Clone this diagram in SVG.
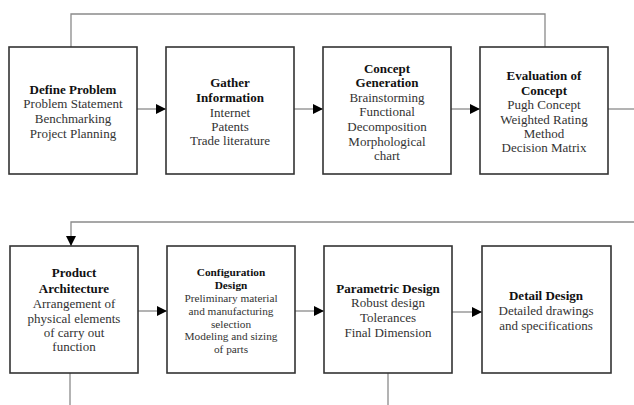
<svg xmlns="http://www.w3.org/2000/svg" width="634" height="405" viewBox="0 0 634 405">
<style>
.box{fill:#fff;stroke:#333;stroke-width:1.6}
.c{fill:none;stroke:#8a8a8a;stroke-width:1.3}
text{font-family:"Liberation Serif","Times New Roman",serif;font-size:13px;fill:#333;text-anchor:middle}
.t{font-weight:bold;fill:#111}
.s{font-size:11.3px}
</style>
<defs>
<marker id="ah" viewBox="0 0 10 10" refX="10" refY="5" markerWidth="10" markerHeight="10" markerUnits="userSpaceOnUse" orient="auto">
<path d="M0,0 L10,5 L0,10 z" fill="#000"/>
</marker>
</defs>
<rect width="634" height="405" fill="#fff"/>
<g id="connectors">
<path class="c" d="M71,47 V14 H545 V47"/>
<path class="c" d="M137,109 H166" marker-end="url(#ah)"/>
<path class="c" d="M294,109 H323" marker-end="url(#ah)"/>
<path class="c" d="M451,109 H480" marker-end="url(#ah)"/>
<path class="c" d="M608,109 H634"/>
<path class="c" d="M634,222 H71 V246" marker-end="url(#ah)"/>
<path class="c" d="M138,311 H167" marker-end="url(#ah)"/>
<path class="c" d="M295,311 H324" marker-end="url(#ah)"/>
<path class="c" d="M452,312 H482" marker-end="url(#ah)"/>
<path class="c" d="M70,373 V405"/>
<path class="c" d="M388,373 V405"/>
</g>
<g id="define-problem">
<rect class="box" x="9" y="47" width="128" height="127"/>
<text x="73" y="93.5" class="t">Define Problem</text>
<text x="73" y="108">Problem Statement</text>
<text x="73" y="122.5">Benchmarking</text>
<text x="73" y="137.5">Project Planning</text>
</g>
<g id="gather-information">
<rect class="box" x="166" y="47" width="128" height="127"/>
<text x="230" y="86.5" class="t">Gather</text>
<text x="230" y="101.5" class="t">Information</text>
<text x="230" y="116.5">Internet</text>
<text x="230" y="130.5">Patents</text>
<text x="230" y="144.5">Trade literature</text>
</g>
<g id="concept-generation">
<rect class="box" x="323" y="47" width="128" height="127"/>
<text x="387" y="72.5" class="t">Concept</text>
<text x="387" y="86.5" class="t">Generation</text>
<text x="387" y="101.5">Brainstorming</text>
<text x="387" y="115.5">Functional</text>
<text x="387" y="130.5">Decomposition</text>
<text x="387" y="145.5">Morphological</text>
<text x="387" y="159.5">chart</text>
</g>
<g id="evaluation-of-concept">
<rect class="box" x="480" y="47" width="128" height="127"/>
<text x="544" y="79.5" class="t">Evaluation of</text>
<text x="544" y="94.5" class="t">Concept</text>
<text x="544" y="108.5">Pugh Concept</text>
<text x="544" y="123.5">Weighted Rating</text>
<text x="544" y="137.5">Method</text>
<text x="544" y="151.5">Decision Matrix</text>
</g>
<g id="product-architecture">
<rect class="box" x="10" y="246" width="128" height="127"/>
<text x="74" y="276.5" class="t">Product</text>
<text x="74" y="292.5" class="t">Architecture</text>
<text x="74" y="307.5">Arrangement of</text>
<text x="74" y="322.5">physical elements</text>
<text x="74" y="336.5">of carry out</text>
<text x="74" y="350.5">function</text>
</g>
<g id="configuration-design">
<rect class="box" x="167" y="246" width="128" height="127"/>
<text x="231" y="276" class="t s">Configuration</text>
<text x="231" y="289" class="t s">Design</text>
<text x="231" y="302" class="s">Preliminary material</text>
<text x="231" y="315" class="s">and manufacturing</text>
<text x="231" y="328" class="s">selection</text>
<text x="231" y="340" class="s">Modeling and sizing</text>
<text x="231" y="353" class="s">of parts</text>
</g>
<g id="parametric-design">
<rect class="box" x="324" y="246" width="128" height="127"/>
<text x="388" y="292.5" class="t">Parametric Design</text>
<text x="388" y="306.5">Robust design</text>
<text x="388" y="321.5">Tolerances</text>
<text x="388" y="336.5">Final Dimension</text>
</g>
<g id="detail-design">
<rect class="box" x="482" y="246" width="129" height="127"/>
<text x="546" y="299.5" class="t">Detail Design</text>
<text x="546" y="314.5">Detailed drawings</text>
<text x="546" y="329.5">and specifications</text>
</g>
</svg>
